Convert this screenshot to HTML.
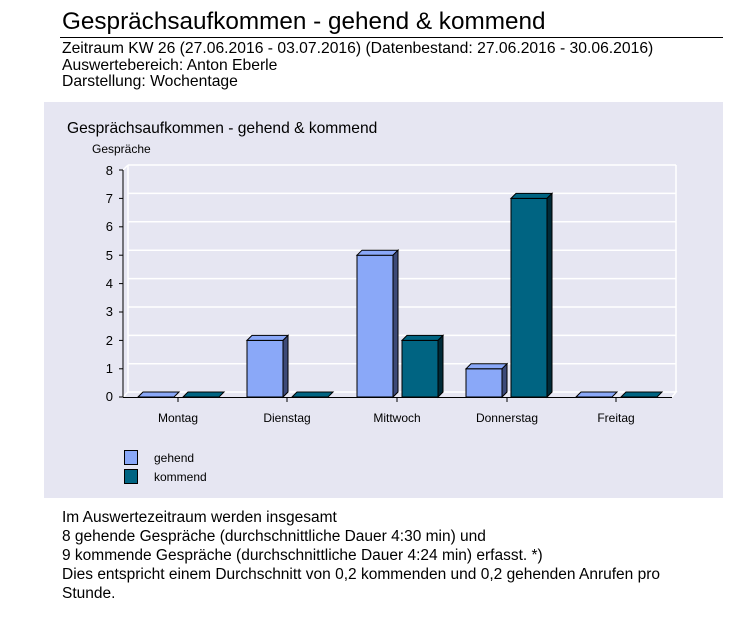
<!DOCTYPE html>
<html><head><meta charset="utf-8"><style>
body{margin:0;width:747px;height:619px;background:#fff;font-family:"Liberation Sans",sans-serif;position:relative;overflow:hidden}
.t{position:absolute;white-space:nowrap;color:#000}
</style></head><body>
<div class="t" style="left:62px;top:8px;font-size:24.3px">Gesprächsaufkommen - gehend &amp; kommend</div>
<div style="position:absolute;left:60px;top:37px;width:663px;height:1px;background:#000"></div>
<div class="t" style="left:62px;top:41px;font-size:15.7px;line-height:16.5px">Zeitraum KW 26 (27.06.2016 - 03.07.2016) (Datenbestand: 27.06.2016 - 30.06.2016)<br>Auswertebereich: Anton Eberle<br>Darstellung: Wochentage</div>
<div style="position:absolute;left:44px;top:102px;width:679px;height:396px;background:#e6e6f2"></div>
<svg style="position:absolute;left:0;top:0" width="747" height="619" font-family="Liberation Sans, sans-serif">
<text x="67" y="133" font-size="15.6">Gesprächsaufkommen - gehend &amp; kommend</text>
<text x="92" y="153" font-size="12">Gespräche</text>
<g stroke="#fff" stroke-width="1.5" fill="none">
<polyline points="123,397 128,392 676,392 672,397"/>
<line x1="128" y1="165" x2="128" y2="392"/>
<line x1="676" y1="165" x2="676" y2="392"/>
<line x1="123" y1="170" x2="128" y2="165"/>
<line x1="128" y1="165" x2="676" y2="165"/>
<line x1="128" y1="193.4" x2="676" y2="193.4"/>
<line x1="128" y1="221.8" x2="676" y2="221.8"/>
<line x1="128" y1="250.2" x2="676" y2="250.2"/>
<line x1="128" y1="278.6" x2="676" y2="278.6"/>
<line x1="128" y1="307" x2="676" y2="307"/>
<line x1="128" y1="335.4" x2="676" y2="335.4"/>
<line x1="128" y1="363.8" x2="676" y2="363.8"/>
</g>
<g stroke="#000" stroke-width="1">
<line x1="123" y1="170" x2="123" y2="397"/>
<line x1="123" y1="397.5" x2="672" y2="397.5"/>
<line x1="119" y1="170" x2="123" y2="170"/><line x1="119" y1="198.4" x2="123" y2="198.4"/><line x1="119" y1="226.8" x2="123" y2="226.8"/><line x1="119" y1="255.2" x2="123" y2="255.2"/><line x1="119" y1="283.6" x2="123" y2="283.6"/><line x1="119" y1="312" x2="123" y2="312"/><line x1="119" y1="340.4" x2="123" y2="340.4"/><line x1="119" y1="368.8" x2="123" y2="368.8"/><line x1="119" y1="397" x2="123" y2="397"/>
<line x1="178" y1="397" x2="178" y2="402"/><line x1="287" y1="397" x2="287" y2="402"/><line x1="397" y1="397" x2="397" y2="402"/><line x1="507" y1="397" x2="507" y2="402"/><line x1="616" y1="397" x2="616" y2="402"/>
</g>
<g font-size="13" text-anchor="end">
<text x="113" y="175">8</text><text x="113" y="203">7</text><text x="113" y="231">6</text><text x="113" y="260">5</text><text x="113" y="288">4</text><text x="113" y="316">3</text><text x="113" y="345">2</text><text x="113" y="373">1</text><text x="113" y="401">0</text>
</g>
<g font-size="12" text-anchor="middle">
<text x="178" y="422">Montag</text><text x="287" y="422">Dienstag</text><text x="397" y="422">Mittwoch</text><text x="507" y="422">Donnerstag</text><text x="616" y="422">Freitag</text>
</g>
<g stroke="#000" stroke-width="1">
<polygon points="138,397 143,392 179,392 174,397" fill="#8aa8f8"/>
<polygon points="183,397 188,392 224,392 219,397" fill="#006482"/>
<polygon points="292,397 297,392 333,392 328,397" fill="#006482"/>
<polygon points="576,397 581,392 617,392 612,397" fill="#8aa8f8"/>
<polygon points="621,397 626,392 662,392 657,397" fill="#006482"/>
<rect x="247" y="340.4" width="36" height="56.6" fill="#8aa8f8"/>
<polygon points="247,340.4 252,335.4 288,335.4 283,340.4" fill="#8aa8f8"/>
<polygon points="283,340.4 288,335.4 288,392 283,397" fill="#3d4a78"/>
<rect x="357" y="255.2" width="36" height="141.8" fill="#8aa8f8"/>
<polygon points="357,255.2 362,250.2 398,250.2 393,255.2" fill="#8aa8f8"/>
<polygon points="393,255.2 398,250.2 398,392 393,397" fill="#3d4a78"/>
<rect x="402" y="340.4" width="36" height="56.6" fill="#006482"/>
<polygon points="402,340.4 407,335.4 443,335.4 438,340.4" fill="#006482"/>
<polygon points="438,340.4 443,335.4 443,392 438,397" fill="#002a38"/>
<rect x="466" y="368.8" width="36" height="28.2" fill="#8aa8f8"/>
<polygon points="466,368.8 471,363.8 507,363.8 502,368.8" fill="#8aa8f8"/>
<polygon points="502,368.8 507,363.8 507,392 502,397" fill="#3d4a78"/>
<rect x="511" y="198.4" width="36" height="198.6" fill="#006482"/>
<polygon points="511,198.4 516,193.4 552,193.4 547,198.4" fill="#006482"/>
<polygon points="547,198.4 552,193.4 552,392 547,397" fill="#002a38"/>
<rect x="124.5" y="450.5" width="13" height="14" fill="#8aa8f8"/>
<rect x="124.5" y="469.5" width="13" height="14" fill="#006482"/>
</g>
<g font-size="12"><text x="154" y="462">gehend</text><text x="154" y="481">kommend</text></g>
</svg>
<div class="t" style="left:62px;top:508px;font-size:15.5px;line-height:19px">Im Auswertezeitraum werden insgesamt<br>8 gehende Gespräche (durchschnittliche Dauer 4:30 min) und<br>9 kommende Gespräche (durchschnittliche Dauer 4:24 min) erfasst. *)<br>Dies entspricht einem Durchschnitt von 0,2 kommenden und 0,2 gehenden Anrufen pro<br>Stunde.</div>
</body></html>
